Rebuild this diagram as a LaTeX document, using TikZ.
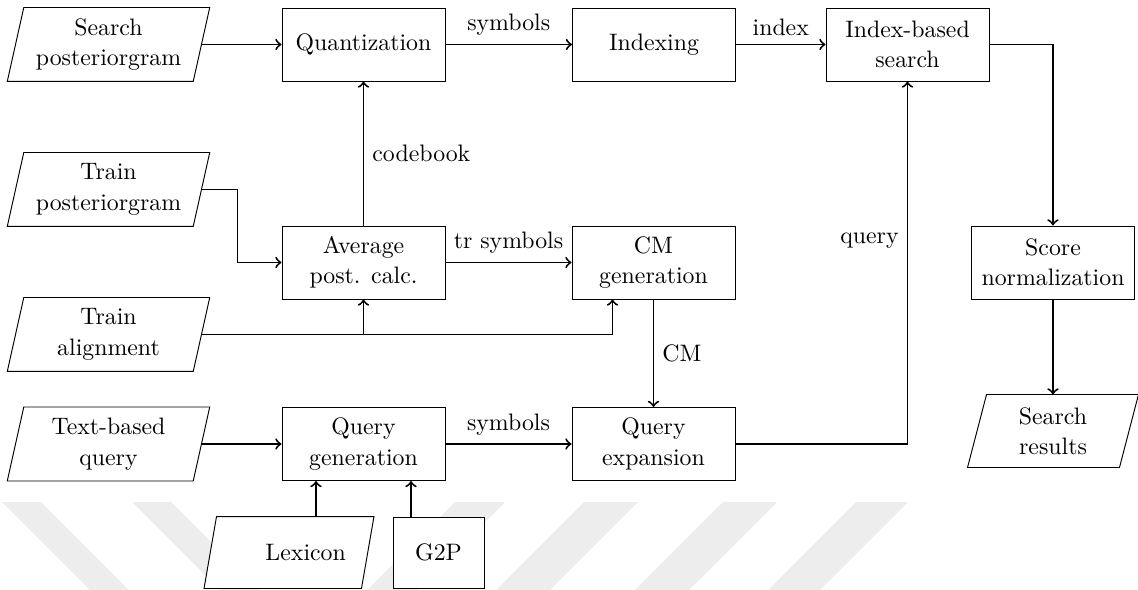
\documentclass[tikz,border=0pt]{standalone}
\usetikzlibrary{calc}
\pgfdeclarelayer{wmark}
\pgfdeclarelayer{shapes}
\pgfsetlayers{wmark,shapes,main}
\newcommand{\drawio}[2]{%
  \begin{pgfonlayer}{shapes}
  \draw[fill=white, line width=0.4pt] ($(#1.north west)+(#2,0)$) -- ($(#1.north east)+(#2,0)$) -- ($(#1.south east)-(#2,0)$) -- ($(#1.south west)-(#2,0)$) -- cycle;
  \end{pgfonlayer}}
\begin{document}
\begin{tikzpicture}[x=0.42pt,y=-0.42pt,
  font=\fontsize{10pt}{12.8pt}\selectfont,
  box/.style={draw, fill=white, line width=0.4pt, minimum width=68.46pt, minimum height=30.66pt, align=center, inner sep=2pt},
  io/.style={minimum width=77.7pt, minimum height=30.66pt, align=center, inner sep=2pt},
  arr/.style={->, thick},
  wm/.style={fill=black!7, draw=none}]
\useasboundingbox (0,0) rectangle (1138,590);

% watermark
\begin{pgfonlayer}{wmark}
\fill[wm] (2,502) -- (41,502) -- (129,590) -- (90,590) -- cycle;
\fill[wm] (132,502) -- (171,502) -- (259,590) -- (220,590) -- cycle;
\fill[wm] (455,502) -- (505,502) -- (417,590) -- (367,590) -- cycle;
\fill[wm] (584,502) -- (638,502) -- (550,590) -- (496,590) -- cycle;
\fill[wm] (723,502) -- (777,502) -- (689,590) -- (635,590) -- cycle;
\fill[wm] (856,502) -- (908,502) -- (820,590) -- (768,590) -- cycle;
\end{pgfonlayer}

% input/output shapes
\node[io] (sp) at (108.5,44.5) {Search\\posteriorgram};
\node[io] (tp) at (108.5,189.5) {Train\\posteriorgram};
\node[io] (ta) at (108.5,334.5) {Train\\alignment};
\node[io] (tq) at (108.5,444) {Text-based\\query};
\node[io, minimum width=63.42pt, minimum height=30.24pt] (sr) at (1053,431) {Search\\results};
\node[io, minimum width=65.73pt, minimum height=29.82pt] (lex) at (289,552.5) {\hspace*{14pt}Lexicon};
\drawio{sp}{8.25}
\drawio{tp}{8.25}
\drawio{ta}{8.25}
\drawio{tq}{8.25}
\drawio{sr}{9.5}
\drawio{lex}{6.25}

% process boxes
\node[box] (quant) at (363.5,44.5) {Quantization};
\node[box] (idx) at (654,44.5) {Indexing};
\node[box] (ibs) at (907.5,44.5) {Index-based\\search};
\node[box] (avg) at (363.5,262.5) {Average\\post. calc.};
\node[box] (cmg) at (653.5,262.5) {CM\\generation};
\node[box] (qg) at (363.5,444) {Query\\generation};
\node[box] (qe) at (653.5,444) {Query\\expansion};
\node[box] (sn) at (1053,262.5) {Score\\normalization};
\node[box, minimum width=38.22pt, minimum height=29.82pt] (g2p) at (438.5,552.5) {G2P};

% connectors
\draw[arr] (sp.east) -- (quant.west);
\draw[arr] (quant.east) -- node[above]{symbols} (idx.west);
\draw[arr] (idx.east) -- node[above]{index} (ibs.west);
\draw[arr] (ibs.east) -| (sn.north);
\draw[arr] (sn.south) -- (sr.north);
\draw[arr] (avg.north) -- node[right]{codebook} (quant.south);
\draw[arr] (tp.east) -- ++(36,0) |- (avg.west);
\draw[arr] (avg.east) -- node[above]{tr symbols} (cmg.west);
\coordinate (cmin) at ($(cmg.south west)!0.25!(cmg.south east)$);
\draw[arr] (ta.east) -| (cmin);
\draw[arr] (ta.east -| avg.south) -- (avg.south);
\draw[arr] (cmg.south) -- node[right]{CM} (qe.north);
\draw[arr] (tq.east) -- (qg.west);
\draw[arr] (qg.east) -- node[above]{symbols} (qe.west);
\draw[arr] (qe.east) -| node[pos=0.78, left]{query} (ibs.south);
\coordinate (qgl) at ($(qg.south)+(-47.5,0)$);
\coordinate (qgr) at ($(qg.south)+(47.5,0)$);
\draw[arr] (qgl |- lex.north) -- (qgl);
\draw[arr] (qgr |- g2p.north) -- (qgr);
\end{tikzpicture}
\end{document}
